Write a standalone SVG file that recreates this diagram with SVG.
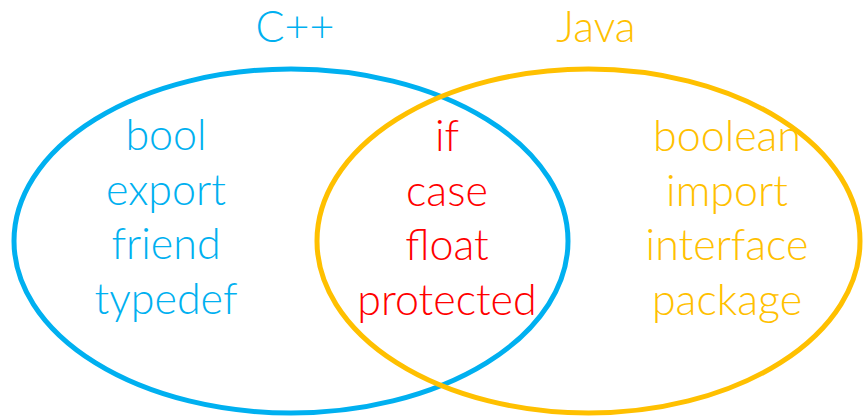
<svg xmlns="http://www.w3.org/2000/svg" width="863" height="416" viewBox="0 0 863 416">
<style>
text{font-family:Lato,"Open Sans","Liberation Sans",sans-serif;font-weight:300;font-size:43px;text-anchor:middle}
.b{fill:#00B0F0}.y{fill:#FFC000}.r{fill:#FF0000}
.set{fill:none;stroke-width:5}
</style>
<rect width="863" height="416" fill="#fff"/>
<g id="cpp-set">
<ellipse class="set" cx="291" cy="241" rx="277" ry="172" stroke="#00B0F0"/>
<text class="b" x="295" y="42">C++</text>
</g>
<g id="java-set">
<ellipse class="set" cx="588.5" cy="241" rx="271.5" ry="172" stroke="#FFC000"/>
<text class="y" x="596" y="42">Java</text>
</g>
<g id="cpp-only">
<text class="b" x="166" y="150">bool</text>
<text class="b" x="166" y="205">export</text>
<text class="b" x="166" y="259">friend</text>
<text class="b" x="166" y="314">typedef</text>
</g>
<g id="both">
<text class="r" x="447" y="151">if</text>
<text class="r" x="447" y="206">case</text>
<text class="r" x="447" y="260">float</text>
<text class="r" x="447" y="315">protected</text>
</g>
<g id="java-only">
<text class="y" x="727" y="151">boolean</text>
<text class="y" x="727" y="206">import</text>
<text class="y" x="727" y="260">interface</text>
<text class="y" x="727" y="315">package</text>
</g>
<g id="connectors"/>
</svg>
